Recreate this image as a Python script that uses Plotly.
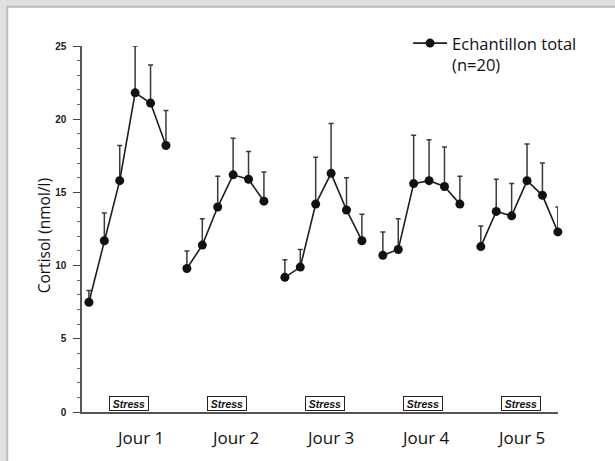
import plotly.graph_objects as go

# ---- data ----
days = ["Jour 1", "Jour 2", "Jour 3", "Jour 4", "Jour 5"]
samples_per_day = 6
cortisol = [
    [7.5, 11.7, 15.8, 21.8, 21.1, 18.2],
    [9.8, 11.4, 14.0, 16.2, 15.9, 14.4],
    [9.2, 9.9, 14.2, 16.3, 13.8, 11.7],
    [10.7, 11.1, 15.6, 15.8, 15.4, 14.2],
    [11.3, 13.7, 13.4, 15.8, 14.8, 12.3],
]
error_top = [
    [8.3, 13.6, 18.2, 25.0, 23.7, 20.6],
    [11.0, 13.2, 16.1, 18.7, 17.8, 16.4],
    [10.4, 11.1, 17.4, 19.7, 16.0, 13.5],
    [12.3, 13.2, 18.9, 18.6, 18.1, 16.1],
    [12.7, 15.9, 15.6, 18.3, 17.0, 14.0],
]
y_ticks = [0, 5, 10, 15, 20, 25]
legend_name = "Echantillon total<br>(n=20)"
stress_label = "Stress"
y_title = "Cortisol (nmol/l)"

# ---- layout helpers ----
DAY_STEP = samples_per_day - 1 + 1.36
STRESS_OFFSET = 2.6
LABEL_FIRST = 3.3
LABEL_STEP = 6.18

fig = go.Figure()
for d, (vals, tops) in enumerate(zip(cortisol, error_top)):
    xs = [d * DAY_STEP + i for i in range(len(vals))]
    plus = [t - v for t, v in zip(tops, vals)]
    fig.add_trace(go.Scatter(
        x=xs, y=vals, mode="lines+markers",
        name=legend_name, showlegend=(d == 0), legendgroup="g",
        line=dict(color="#1e1e1e", width=1.6),
        marker=dict(color="#111111", size=9),
        error_y=dict(type="data", symmetric=False, array=plus,
                     arrayminus=[0] * len(plus), color="#3a3a3a",
                     thickness=1.5, width=2.5),
        cliponaxis=False,
    ))

annotations = []
for d, day in enumerate(days):
    annotations.append(dict(
        x=d * DAY_STEP + STRESS_OFFSET, y=0, xref="x", yref="y",
        yanchor="bottom", yshift=1, showarrow=False,
        text="<b><i>" + stress_label + "</i></b>",
        font=dict(family="Liberation Sans", size=10.5, color="#111"),
        bordercolor="#222", borderwidth=1, borderpad=1,
        width=36, height=11, bgcolor="white",
    ))
    annotations.append(dict(
        x=LABEL_FIRST + d * LABEL_STEP, y=0, xref="x", yref="y",
        yanchor="top", yshift=-12, showarrow=False, text=day,
        font=dict(family="Open Sans", size=17, color="#111"),
    ))
annotations.append(dict(
    x=0, y=0.48, xref="paper", yref="paper", xshift=-38, textangle=-90,
    xanchor="center", yanchor="middle",
    showarrow=False, text=y_title,
    font=dict(family="Open Sans", size=15.5, color="#111"),
))

fig.update_layout(
    width=615, height=461,
    margin=dict(l=82, r=57, t=46, b=49),
    paper_bgcolor="#e0e0e0", plot_bgcolor="white",
    showlegend=True,
    legend=dict(x=0.685, y=1.055, xanchor="left", yanchor="top",
                bgcolor="rgba(0,0,0,0)", valign="top",
                font=dict(family="Open Sans", size=16.5, color="#111"),
                itemwidth=34),
    annotations=annotations,
    shapes=[dict(type="rect", xref="paper", yref="paper", layer="below",
                 x0=-0.157, y0=-0.5, x1=1.5, y1=1.107,
                 fillcolor="white", line=dict(color="#bdbdbd", width=2))],
    xaxis=dict(range=[-0.45, 30.45], showgrid=False, zeroline=False,
               showticklabels=False, ticks="", showline=True,
               linecolor="#555", linewidth=1.5),
    yaxis=dict(range=[0, 25], tickvals=y_ticks, showgrid=False,
               zeroline=False, showline=True, linecolor="#555",
               linewidth=1.5, ticks="outside", ticklen=7, tickwidth=1.3,
               tickcolor="#444", ticklabelstandoff=5,
               tickfont=dict(family="Liberation Sans", size=10, color="#222",
                             weight="bold"),
               minor=dict(dtick=1, ticks="outside", ticklen=3,
                          tickcolor="#666", tickwidth=1, showgrid=False)),
)

fig.write_html("out.html",
               config={"displayModeBar": False},
               post_script="document.body.style.margin='0';")
